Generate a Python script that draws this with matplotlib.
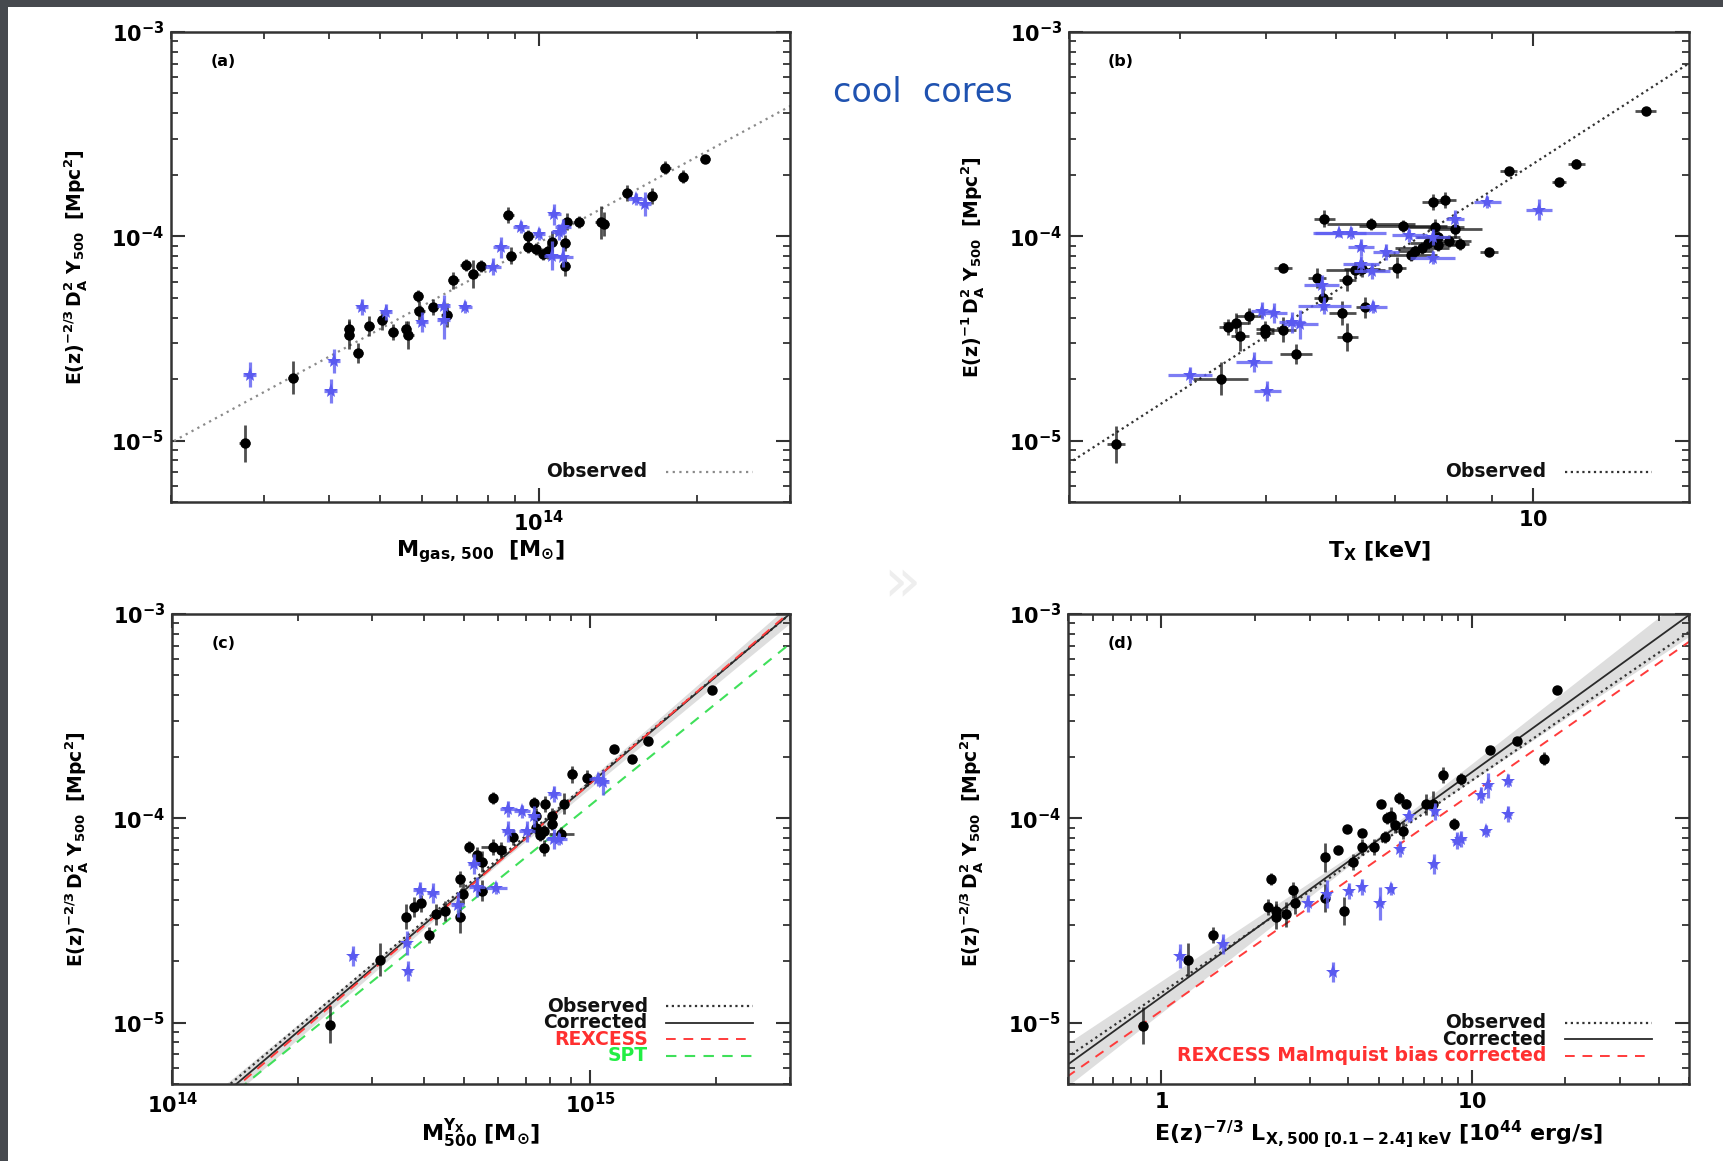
import numpy as np
import matplotlib
matplotlib.use("Agg")
import matplotlib.pyplot as plt
from matplotlib.ticker import LogLocator, NullFormatter, FuncFormatter
from matplotlib.patches import Rectangle

plt.rcParams["font.family"] = ["DejaVu Sans"]
plt.rcParams["mathtext.fontset"] = "dejavusans"

# ---------------- (a) Y500 vs Mgas,500 ----------------
mgas_black = [2.76, 3.41, 4.36, 4.36, 4.53, 4.76, 5.03, 5.28, 5.59, 5.65, 5.89, 5.93, 6.29,
              6.68, 6.88, 7.26, 7.5, 7.76, 8.75, 8.86, 9.55, 9.55, 9.86, 10.2, 10.4, 10.6,
              11.2, 11.2, 11.3, 11.9, 13.1, 13.3, 14.7, 16.4, 17.4, 18.8, 20.7]          # 1e13 Msun
ya_black = [0.97, 2.03, 3.52, 3.28, 2.69, 3.64, 3.88, 3.39, 3.52, 3.28, 5.08, 4.30, 4.52,
            4.12, 6.08, 7.24, 6.52, 7.15, 12.7, 8.04, 10.0, 8.9, 8.67, 8.2, 8.45, 9.42,
            9.3, 7.18, 11.8, 11.7, 11.7, 11.5, 16.3, 15.7, 21.7, 19.6, 23.9]            # 1e-5 Mpc^2
ya_black_err = [0.09, 0.08, 0.05, 0.07, 0.05, 0.05, 0.05, 0.04, 0.04, 0.07, 0.03, 0.05, 0.04,
                0.06, 0.04, 0.03, 0.07, 0.03, 0.04, 0.04, 0.03, 0.03, 0.03, 0.03, 0.04, 0.05,
                0.04, 0.05, 0.04, 0.03, 0.08, 0.06, 0.04, 0.04, 0.03, 0.03, 0.02]       # dex
mgas_black_err = [0.01, 0.01, 0.01, 0.01, 0.01, 0.01, 0.01, 0.01, 0.01, 0.01, 0.01, 0.01, 0.01,
                  0.01, 0.01, 0.01, 0.01, 0.01, 0.01, 0.01, 0.01, 0.01, 0.01, 0.01, 0.01, 0.01,
                  0.01, 0.01, 0.01, 0.01, 0.01, 0.01, 0.01, 0.01, 0.01, 0.01, 0.01]

mgas_blue = [2.82, 4.02, 4.08, 4.61, 5.12, 6.0, 6.59, 6.59, 7.25, 8.18, 8.48, 9.25, 10.0,
             10.7, 10.6, 10.9, 11.1, 11.1, 15.3, 15.9]
ya_blue = [2.1, 1.75, 2.45, 4.49, 4.27, 3.8, 4.58, 3.88, 4.52, 7.1, 8.81, 11.1, 10.3,
           12.8, 8.04, 10.5, 11.1, 7.94, 15.2, 14.4]
ya_blue_err = [0.06, 0.06, 0.06, 0.04, 0.04, 0.05, 0.05, 0.09, 0.03, 0.04, 0.05, 0.03, 0.03,
               0.05, 0.07, 0.04, 0.04, 0.05, 0.03, 0.06]
mgas_blue_err = [0.012, 0.012, 0.012, 0.012, 0.012, 0.012, 0.012, 0.012, 0.012, 0.015, 0.015,
                 0.015, 0.012, 0.012, 0.015, 0.015, 0.015, 0.02, 0.015, 0.012]

# ---------------- (b) Y500 vs T_X ----------------
tx_black = [3.39, 4.45, 4.53, 4.63, 4.68, 4.79, 4.99, 4.99, 5.23, 5.23, 5.41, 5.71, 5.80, 5.82,
            6.10, 6.18, 6.18, 6.31, 6.42, 6.47, 6.57, 7.03, 7.14, 7.28, 7.37, 7.50, 7.61, 7.72,
            7.75, 7.82, 7.82, 7.97, 8.05, 8.17, 8.28, 8.93, 9.39, 10.7, 11.2, 13.4]       # keV
yb_black = [0.96, 2.01, 3.6, 3.75, 3.24, 4.07, 3.35, 3.52, 7.03, 3.49, 2.66, 6.25, 4.98, 12.2,
            4.21, 3.21, 6.08, 6.86, 6.95, 4.49, 11.5, 7.03, 11.2, 8.11, 8.45, 8.73, 9.3, 14.7,
            11.1, 9.89, 9.1, 15.0, 9.48, 10.8, 9.18, 8.38, 20.9, 18.5, 22.7, 41.1]
yb_black_err = [0.09, 0.08, 0.04, 0.05, 0.07, 0.04, 0.04, 0.04, 0.02, 0.06, 0.05, 0.05, 0.06, 0.04,
                0.06, 0.07, 0.05, 0.04, 0.04, 0.05, 0.03, 0.05, 0.03, 0.03, 0.03, 0.03, 0.03, 0.04,
                0.04, 0.03, 0.03, 0.04, 0.03, 0.04, 0.03, 0.02, 0.02, 0.02, 0.02, 0.015]
tx_black_err = [0.01, 0.031, 0.01, 0.015, 0.01, 0.015, 0.01, 0.01, 0.01, 0.015, 0.018, 0.01, 0.01,
                0.012, 0.015, 0.012, 0.01, 0.033, 0.02, 0.01, 0.05, 0.01, 0.05, 0.03, 0.02, 0.03,
                0.02, 0.012, 0.033, 0.025, 0.02, 0.012, 0.025, 0.03, 0.01, 0.01, 0.01, 0.008,
                0.01, 0.012]

tx_blue = [4.11, 4.85, 5.02, 4.95, 5.11, 5.35, 5.47, 5.78, 5.82, 6.05, 6.23, 6.40, 6.40, 6.59,
           6.61, 6.83, 7.26, 7.71, 7.71, 8.17, 8.89, 10.16]
yb_blue = [2.1, 2.42, 1.75, 4.33, 4.2, 3.79, 3.71, 5.75, 4.58, 10.4, 10.4, 8.81, 7.33, 6.75,
           4.49, 8.38, 10.1, 7.87, 9.88, 12.2, 14.7, 13.5]
yb_blue_err = [0.04, 0.05, 0.05, 0.04, 0.05, 0.05, 0.07, 0.05, 0.04, 0.02, 0.03, 0.04, 0.04, 0.04,
               0.03, 0.04, 0.03, 0.03, 0.04, 0.04, 0.03, 0.05]
tx_blue_err = [0.025, 0.02, 0.015, 0.012, 0.015, 0.015, 0.02, 0.02, 0.03, 0.03, 0.04, 0.015, 0.02,
               0.02, 0.015, 0.015, 0.02, 0.025, 0.02, 0.01, 0.015, 0.015]

# ---------------- (c) Y500 vs M500(Y_X) ----------------
myx_black = [2.39, 3.14, 3.62, 3.79, 3.94, 4.12, 4.28, 4.5, 4.89, 4.89, 4.96, 5.12, 5.36, 5.52,
             5.52, 5.86, 5.86, 6.13, 6.54, 7.34, 7.41, 7.41, 7.57, 7.73, 7.73, 7.8, 8.11, 8.11,
             8.53, 8.65, 9.06, 9.82, 11.4, 12.6, 13.7, 19.5]                               # 1e14 Msun
yc_black = [0.975, 2.03, 3.3, 3.67, 3.83, 2.69, 3.38, 3.52, 5.06, 3.3, 4.28, 7.24, 6.58, 6.13,
            4.42, 12.6, 7.24, 7.0, 8.11, 11.9, 10.2, 9.0, 8.28, 8.63, 7.15, 11.7, 10.2, 9.37,
            8.41, 11.8, 16.4, 15.7, 21.8, 19.5, 23.9, 42.4]
yc_black_err = [0.09, 0.08, 0.06, 0.05, 0.04, 0.04, 0.05, 0.05, 0.04, 0.08, 0.05, 0.03, 0.04, 0.05,
                0.05, 0.03, 0.04, 0.04, 0.04, 0.03, 0.04, 0.03, 0.03, 0.03, 0.04, 0.04, 0.04, 0.03,
                0.03, 0.05, 0.04, 0.04, 0.02, 0.02, 0.02, 0.02]
myx_black_err = [0.01, 0.01, 0.01, 0.01, 0.01, 0.01, 0.01, 0.01, 0.01, 0.01, 0.01, 0.01, 0.01, 0.01,
                 0.01, 0.01, 0.03, 0.01, 0.01, 0.01, 0.01, 0.01, 0.01, 0.01, 0.01, 0.01, 0.01, 0.01,
                 0.03, 0.01, 0.01, 0.01, 0.01, 0.01, 0.01, 0.01]

myx_blue = [2.71, 3.65, 3.67, 3.91, 4.21, 4.82, 5.27, 5.36, 5.95, 6.37, 6.37, 6.86, 7.06, 7.34,
            8.2, 8.2, 8.4, 10.4, 10.7]
yc_blue = [2.12, 2.45, 1.79, 4.47, 4.3, 3.78, 5.97, 4.61, 4.56, 11.1, 8.63, 10.8, 8.63, 10.2,
           13.1, 7.94, 7.94, 15.5, 15.0]
yc_blue_err = [0.05, 0.06, 0.05, 0.04, 0.05, 0.06, 0.05, 0.05, 0.03, 0.04, 0.05, 0.03, 0.05, 0.05,
               0.04, 0.05, 0.03, 0.03, 0.06]
myx_blue_err = [0.01, 0.01, 0.01, 0.015, 0.015, 0.015, 0.015, 0.02, 0.025, 0.02, 0.015, 0.02, 0.02,
                0.015, 0.015, 0.02, 0.02, 0.02, 0.015]

# ---------------- (d) Y500 vs L_X ----------------
lx_black = [0.875, 1.22, 1.46, 2.2, 2.26, 2.34, 2.34, 2.52, 2.65, 2.7, 3.36, 3.36, 3.69, 3.87,
            3.95, 4.15, 4.41, 4.41, 4.84, 5.08, 5.25, 5.32, 5.47, 5.63, 5.82, 6.01, 6.14, 7.13,
            7.49, 8.06, 8.74, 9.22, 11.4, 14.0, 17.1, 18.8]                               # 1e44 erg/s
yd_black = [0.966, 2.03, 2.69, 3.67, 5.06, 3.52, 3.3, 3.38, 4.47, 3.83, 6.44, 4.07, 7.0, 3.52,
            8.84, 6.1, 8.47, 7.25, 7.25, 11.7, 8.11, 10.0, 10.3, 9.3, 12.6, 8.7, 11.8, 11.7,
            11.8, 16.3, 9.35, 15.6, 21.6, 24.0, 19.6, 42.4]
yd_black_err = [0.09, 0.08, 0.04, 0.04, 0.03, 0.05, 0.06, 0.06, 0.04, 0.05, 0.07, 0.07, 0.02, 0.07,
                0.02, 0.04, 0.02, 0.04, 0.04, 0.02, 0.03, 0.03, 0.04, 0.04, 0.03, 0.04, 0.02, 0.05,
                0.06, 0.04, 0.03, 0.03, 0.02, 0.02, 0.03, 0.02]
lx_black_err = [0.01, 0.01, 0.01, 0.01, 0.01, 0.01, 0.01, 0.01, 0.01, 0.01, 0.01, 0.01, 0.01, 0.01,
                0.01, 0.01, 0.01, 0.01, 0.01, 0.01, 0.01, 0.01, 0.01, 0.01, 0.01, 0.01, 0.01, 0.01,
                0.01, 0.01, 0.01, 0.01, 0.01, 0.01, 0.01, 0.01]

lx_blue = [1.15, 1.58, 3.56, 2.97, 3.42, 4.03, 4.41, 5.05, 5.47, 5.87, 6.26, 7.52, 7.58, 8.92,
           9.22, 10.7, 11.1, 11.3, 13.1, 13.1]
yd_blue = [2.12, 2.42, 1.77, 3.83, 4.25, 4.42, 4.61, 3.83, 4.52, 7.06, 10.3, 5.97, 10.8, 7.77,
           7.94, 13.0, 8.67, 14.5, 15.3, 10.5]
yd_blue_err = [0.06, 0.05, 0.05, 0.04, 0.07, 0.04, 0.04, 0.08, 0.03, 0.04, 0.03, 0.05, 0.04, 0.04,
               0.04, 0.04, 0.03, 0.06, 0.03, 0.04]
lx_blue_err = [0.012, 0.012, 0.012, 0.012, 0.012, 0.012, 0.012, 0.012, 0.012, 0.012, 0.012, 0.012,
               0.012, 0.015, 0.015, 0.012, 0.012, 0.012, 0.012, 0.012]

# Power-law relations: (pivot, normalisation at pivot, slope)
fit_a_obs = (1e14, 9.3e-5, 1.40)
fit_b_obs = (6.0, 5.4e-5, 2.80)
fit_c_obs = (6e14, 6.28e-5, 1.72)
fit_c_cor = (6e14, 6.10e-5, 1.74)
fit_c_rex = (6e14, 6.05e-5, 1.757)
fit_c_spt = (6e14, 4.98e-5, 1.656)
fit_d_obs = (5.0, 7.45e-5, 1.04)
fit_d_cor = (5.0, 7.85e-5, 1.10)
fit_d_rex = (5.0, 6.32e-5, 1.063)
# Scatter band around the corrected relation: half-width = a + b*|log x - log pivot| (dex)
band_c = (0.012, 0.05)
band_d = (0.015, 0.09)

xlim_a = (2e13, 3e14)
xlim_b = (3.0, 15.0)
xlim_c = (1e14, 3e15)
xlim_d = (0.5, 50.0)
ylim = (5e-6, 1e-3)

BLUE = "#5a5af0"
FW = 1723 / 100.0
FH = 1161 / 100.0

fig = plt.figure(figsize=(FW, FH), dpi=100, facecolor="white")
# slide frame strips
fig.patches.append(Rectangle((0, 0), 8 / 1723, 1, transform=fig.transFigure,
                             facecolor="#46494e", edgecolor="none", zorder=0))
fig.patches.append(Rectangle((0, 1 - 7 / 1161), 1, 7 / 1161, transform=fig.transFigure,
                             facecolor="#46494e", edgecolor="none", zorder=0))


def axes_px(l, t, r, b):
    return fig.add_axes([l / 1723, 1 - b / 1161, (r - l) / 1723, (b - t) / 1161])


def dex_err(v, e):
    v = np.asarray(v, float)
    e = np.asarray(e, float)
    return np.vstack([v - v / 10 ** e, v * 10 ** e - v])


def power_law(fit, x):
    piv, norm, slope = fit
    return norm * (x / piv) ** slope


def sci_label(v, pos):
    return r"$\mathbf{10^{%d}}$" % int(round(np.log10(v)))


def plain_label(v, pos):
    return r"$\mathbf{%g}$" % v


def style_axes(ax, xlim, xfmt):
    ax.set_xscale("log")
    ax.set_yscale("log")
    ax.set_xlim(*xlim)
    ax.set_ylim(*ylim)
    for s in ax.spines.values():
        s.set_color("#333333")
        s.set_linewidth(1.8)
    for axis in (ax.xaxis, ax.yaxis):
        axis.set_major_locator(LogLocator(base=10, numticks=12))
        axis.set_minor_locator(LogLocator(base=10, subs=np.arange(2, 10) * 1.0, numticks=30))
        axis.set_minor_formatter(NullFormatter())
    ax.yaxis.set_major_formatter(FuncFormatter(sci_label))
    ax.xaxis.set_major_formatter(FuncFormatter(xfmt))
    ax.tick_params(which="both", direction="in", top=True, right=True,
                   color="#333333", labelsize=15)
    ax.tick_params(which="major", length=10, width=1.5)
    ax.tick_params(which="minor", length=5, width=1.3)
    ax.tick_params(axis="y", pad=5)
    ax.tick_params(axis="x", pad=6)


def points(ax, x, y, xe, ye, kind):
    x = np.asarray(x, float)
    y = np.asarray(y, float)
    if kind == "black":
        ax.errorbar(x, y, xerr=dex_err(x, xe), yerr=dex_err(y, ye), fmt="o", ms=6.5,
                    mfc="k", mec="k", ecolor=(0.08, 0.08, 0.08, 0.75), elinewidth=2.0,
                    capsize=0, zorder=4)
    else:
        ax.errorbar(x, y, xerr=dex_err(x, xe), yerr=dex_err(y, ye), fmt="*", ms=11,
                    mfc=BLUE, mec=BLUE, mew=0, ecolor=(0.36, 0.36, 0.95, 0.8),
                    elinewidth=2.3, capsize=0, zorder=5)


def relation(ax, fit, xlim, **kw):
    xx = np.logspace(np.log10(xlim[0]) - 0.05, np.log10(xlim[1]) + 0.05, 200)
    ax.plot(xx, power_law(fit, xx), zorder=2, **kw)


def band(ax, fit, xlim, wid):
    xx = np.logspace(np.log10(xlim[0]) - 0.05, np.log10(xlim[1]) + 0.05, 200)
    half = wid[0] + wid[1] * np.abs(np.log10(xx / fit[0]))
    yy = power_law(fit, xx)
    ax.fill_between(xx, yy / 10 ** half, yy * 10 ** half, color="#dedede", lw=0, zorder=1)


def key(ax, rows):
    for label, yk, tcolor, style in rows:
        ax.text(0.77, yk, label, transform=ax.transAxes, ha="right", va="center",
                fontsize=13.5, fontweight="bold", color=tcolor)
        ax.plot([0.80, 0.94], [yk, yk], transform=ax.transAxes, **style)


def labels(ax, xlabel, ylabel, tag):
    ax.text(0.5, -0.106, xlabel, transform=ax.transAxes, ha="center", va="center", fontsize=16)
    ax.text(-0.155, 0.5, ylabel, transform=ax.transAxes, ha="center", va="center",
            rotation=90, fontsize=13.5)
    ax.text(0.084, 0.938, tag, transform=ax.transAxes, ha="center", va="center",
            fontsize=11.5, fontweight="bold")


ylab_23 = r"$\mathbf{E(z)^{-2/3}\,D_A^2\ Y_{500}\ \ [Mpc^2]}$"
ylab_1 = r"$\mathbf{E(z)^{-1}\,D_A^2\ Y_{500}\ \ [Mpc^2]}$"

obs_a_style = dict(color="#8a8a8a", lw=1.6, ls=(0, (1, 2)))
obs_style = dict(color="#333333", lw=1.6, ls=(0, (1, 1.6)))
cor_style = dict(color="#2a2a2a", lw=1.3, ls="-")
rex_style = dict(color="#ff3b3b", lw=1.4, ls=(0, (5, 4)))
spt_style = dict(color="#3fe05a", lw=1.5, ls=(0, (5, 4)))

# (a)
ax_a = axes_px(171, 32, 790, 502)
style_axes(ax_a, xlim_a, sci_label)
relation(ax_a, fit_a_obs, xlim_a, **obs_a_style)
points(ax_a, np.array(mgas_black) * 1e13, np.array(ya_black) * 1e-5, mgas_black_err, ya_black_err, "black")
points(ax_a, np.array(mgas_blue) * 1e13, np.array(ya_blue) * 1e-5, mgas_blue_err, ya_blue_err, "blue")
key(ax_a, [("Observed", 0.064, "#111111", obs_a_style)])
labels(ax_a, r"$\mathbf{M_{gas,\,500}\ \ [M_{\odot}]}$", ylab_23, "(a)")

# (b)
ax_b = axes_px(1069, 32, 1689, 502)
style_axes(ax_b, xlim_b, plain_label)
relation(ax_b, fit_b_obs, xlim_b, **obs_style)
points(ax_b, tx_black, np.array(yb_black) * 1e-5, tx_black_err, yb_black_err, "black")
points(ax_b, tx_blue, np.array(yb_blue) * 1e-5, tx_blue_err, yb_blue_err, "blue")
key(ax_b, [("Observed", 0.064, "#111111", obs_style)])
labels(ax_b, r"$\mathbf{T_X\ [keV]}$", ylab_1, "(b)")

# (c)
ax_c = axes_px(172, 614, 790, 1084)
style_axes(ax_c, xlim_c, sci_label)
band(ax_c, fit_c_cor, xlim_c, band_c)
relation(ax_c, fit_c_spt, xlim_c, **spt_style)
relation(ax_c, fit_c_obs, xlim_c, **obs_style)
relation(ax_c, fit_c_cor, xlim_c, **cor_style)
relation(ax_c, fit_c_rex, xlim_c, **rex_style)
points(ax_c, np.array(myx_black) * 1e14, np.array(yc_black) * 1e-5, myx_black_err, yc_black_err, "black")
points(ax_c, np.array(myx_blue) * 1e14, np.array(yc_blue) * 1e-5, myx_blue_err, yc_blue_err, "blue")
key(ax_c, [("Observed", 0.165, "#111111", obs_style),
           ("Corrected", 0.130, "#111111", cor_style),
           ("REXCESS", 0.095, "#ff3030", rex_style),
           ("SPT", 0.060, "#22ee44", spt_style)])
labels(ax_c, r"$\mathbf{M_{500}^{Y_X}\ [M_{\odot}]}$", ylab_23, "(c)")

# (d)
ax_d = axes_px(1068, 614, 1689, 1084)
style_axes(ax_d, xlim_d, plain_label)
band(ax_d, fit_d_cor, xlim_d, band_d)
relation(ax_d, fit_d_rex, xlim_d, **rex_style)
relation(ax_d, fit_d_obs, xlim_d, **obs_style)
relation(ax_d, fit_d_cor, xlim_d, **cor_style)
points(ax_d, lx_black, np.array(yd_black) * 1e-5, lx_black_err, yd_black_err, "black")
points(ax_d, lx_blue, np.array(yd_blue) * 1e-5, lx_blue_err, yd_blue_err, "blue")
key(ax_d, [("Observed", 0.130, "#111111", obs_style),
           ("Corrected", 0.095, "#111111", cor_style),
           ("REXCESS Malmquist bias corrected", 0.060, "#ff3030", rex_style)])
labels(ax_d, r"$\mathbf{E(z)^{-7/3}\ L_{X,500\ [0.1-2.4]\ keV}\ [10^{44}\ erg/s]}$", ylab_23, "(d)")

fig.text(923 / 1723, 1 - 92 / 1161, "cool  cores", ha="center", va="center",
         fontsize=24, color="#1f52b0")
fig.text(902 / 1723, 1 - 585 / 1161, "\u00bb", ha="center", va="center",
         fontsize=44, color="#eeeeee")

fig.savefig("out.png", dpi=100, facecolor="white")
